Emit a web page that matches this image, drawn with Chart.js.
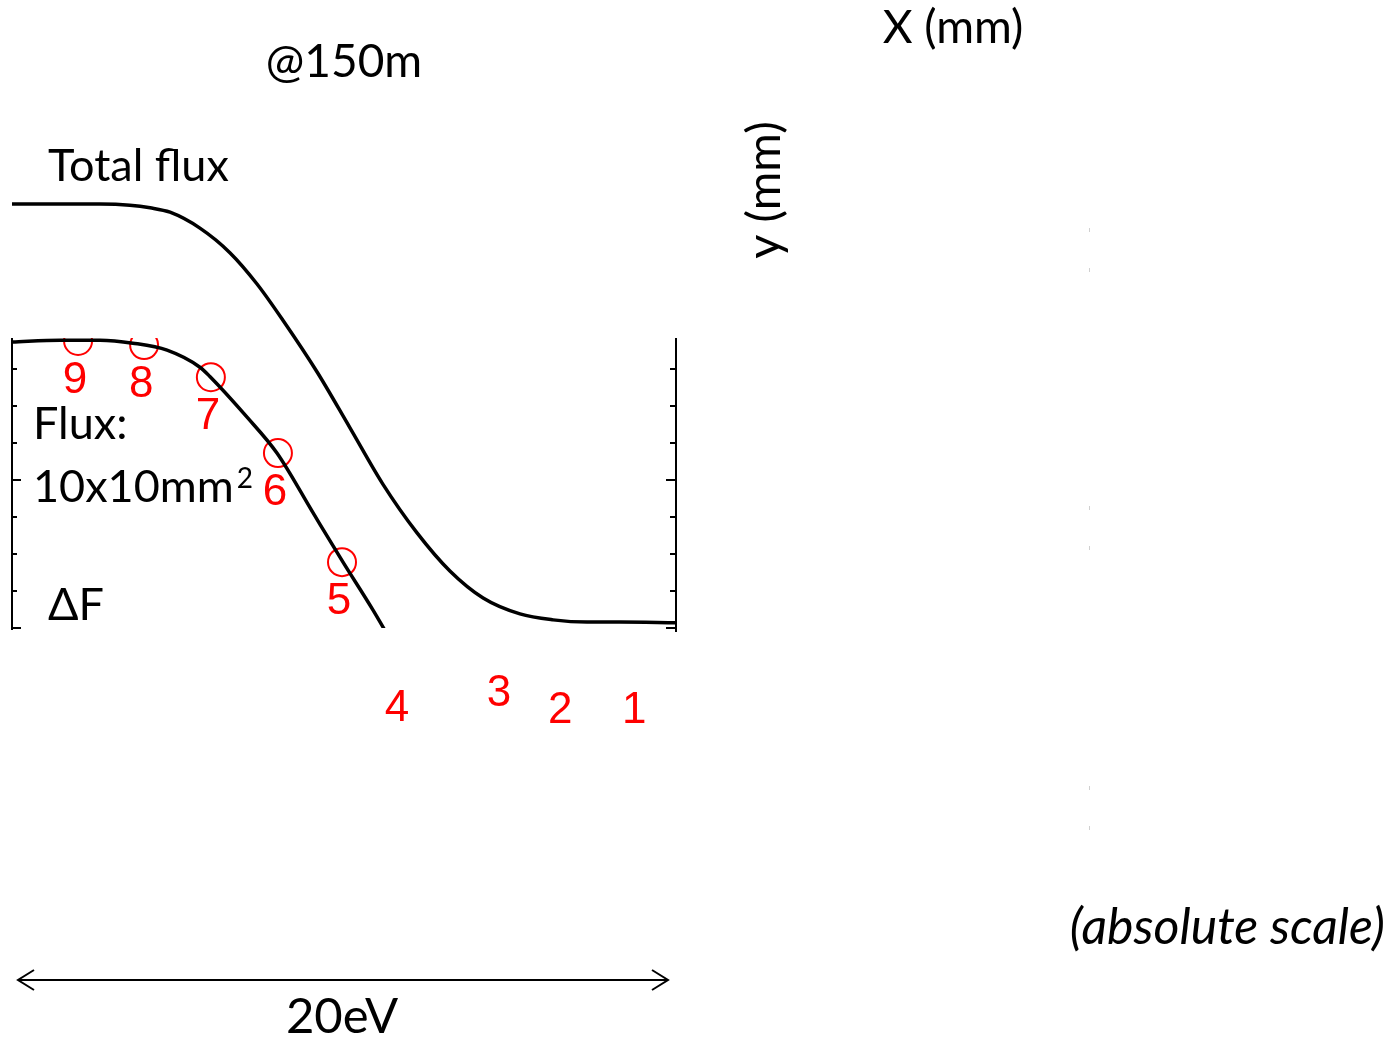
<!DOCTYPE html>
<html>
<head>
<meta charset="utf-8">
<script src="https://cdn.jsdelivr.net/npm/chart.js"></script>
<style>
  html, body { margin: 0; padding: 0; background: #fff; }
  #wrap { width: 1390px; height: 1038px; }
</style>
</head>
<body>
<div id="wrap"><canvas id="chart" width="1390" height="1038"></canvas></div>
<script>
// energy axis (eV), flux axis in tick units
const totalX = [0, 1.45, 2.65, 3.55, 4.16, 4.76, 5.66, 6.57, 7.38, 8.16, 9.19, 10.18, 11.17, 12.2, 13.19, 14.19, 15.3, 16.3, 17.32, 18.31, 20];
const totalY = [11.46, 11.46, 11.46, 11.43, 11.36, 11.24, 10.81, 10.14, 9.30, 8.32, 6.92, 5.41, 3.89, 2.57, 1.54, 0.81, 0.38, 0.22, 0.16, 0.16, 0.14];

const boxX = [0, 1.45, 2.65, 3.64, 4.67, 5.66, 5.96, 7.08, 7.98, 9.07, 9.97, 10.87, 11.54, 12.29];
const boxY = [7.73, 7.78, 7.78, 7.70, 7.51, 7.05, 6.80, 5.70, 4.73, 3.11, 1.78, 0.49, -0.54, -1.68];

const markerLabels = ['9', '8', '7', '6', '5', '4', '3', '2', '1'];
const markerX = [1.99, 3.98, 5.99, 8.01, 9.94, 11.69, 14.76, 16.6, 18.83];
const markerY = [7.76, 7.65, 6.78, 4.73, 1.78, -1.11, -0.70, -1.16, -1.16];

const yTicks = [0, 1, 2, 3, 4, 5, 6, 7];
const majorEvery = 4;

const blackFont = '"Lato", "Open Sans", sans-serif';
const redFont = '"Liberation Sans", Arial, sans-serif';

function pts(xs, ys) {
    return xs.map((x, i) => ({x: x, y: ys[i]}));
}

const frame = {
    id: 'frame',
    afterDatasetsDraw(chart) {
        const ctx = chart.ctx;
        const xs = chart.scales.x;
        const ys = chart.scales.y;
        const left = xs.getPixelForValue(xs.min);
        const right = xs.getPixelForValue(xs.max);
        const top = ys.getPixelForValue(ys.max);
        const bottom = ys.getPixelForValue(ys.min);
        ctx.save();
        ctx.strokeStyle = '#000';
        ctx.lineWidth = 2;
        ctx.beginPath();
        ctx.moveTo(left, top); ctx.lineTo(left, bottom + 2);
        ctx.moveTo(right, top); ctx.lineTo(right, bottom + 4);
        yTicks.forEach((v, i) => {
            const py = ys.getPixelForValue(v);
            const major = i % majorEvery === 0;
            ctx.moveTo(left, py); ctx.lineTo(left + (major ? 9 : 5), py);
            ctx.moveTo(right, py); ctx.lineTo(right - (major ? 10 : 6), py);
        });
        ctx.stroke();

        // marker numbers
        const meta = chart.getDatasetMeta(2);
        ctx.fillStyle = '#ff0000';
        ctx.font = '44px ' + redFont;
        ctx.textAlign = 'center';
        ctx.textBaseline = 'middle';
        meta.data.forEach((el, i) => {
            ctx.fillText(markerLabels[i], el.x - 3, el.y + 40);
        });

        // energy span arrow
        const ax0 = left + 6, ax1 = right - 8, ay = 980;
        ctx.strokeStyle = '#000';
        ctx.lineWidth = 2;
        ctx.beginPath();
        ctx.moveTo(ax0, ay); ctx.lineTo(ax1, ay);
        ctx.moveTo(ax0 + 16, ay - 10); ctx.lineTo(ax0, ay); ctx.lineTo(ax0 + 16, ay + 10);
        ctx.moveTo(ax1 - 16, ay - 10); ctx.lineTo(ax1, ay); ctx.lineTo(ax1 - 16, ay + 10);
        ctx.stroke();

        // text
        ctx.fillStyle = '#000';
        ctx.textBaseline = 'middle';
        ctx.textAlign = 'center';
        ctx.font = '46px ' + blackFont;
        ctx.fillText('@150m', 344, 62);
        ctx.fillText('X (mm)', 953, 28);
        ctx.font = '49px ' + blackFont;
        ctx.fillText('20eV', 342, 1017);
        ctx.font = '45px ' + blackFont;
        ctx.textAlign = 'left';
        ctx.fillText('Total flux', 48, 166);
        ctx.fillText('Flux:', 33, 424);
        ctx.fillText('10x10mm', 33, 487);
        const w = ctx.measureText('10x10mm').width;
        ctx.font = '28px ' + blackFont;
        ctx.fillText('2', 33 + w + 3, 479);
        ctx.font = '45px ' + blackFont;
        ctx.fillText('\u0394F', 48, 605);
        ctx.font = 'italic 50px ' + blackFont;
        ctx.textAlign = 'right';
        ctx.fillText('(absolute scale)', 1385, 928);

        ctx.save();
        ctx.translate(765, 190);
        ctx.rotate(-Math.PI / 2);
        ctx.textAlign = 'center';
        ctx.font = '47px ' + blackFont;
        ctx.fillText('y (mm)', 0, 0);
        ctx.restore();

        // faint marks on the right
        ctx.fillStyle = '#d0d0d0';
        [230, 270, 508, 548, 788, 828].forEach((py) => {
            ctx.fillRect(1089, py - 2, 1, 4);
        });
        ctx.restore();
    }
};

const config = {
    type: 'line',
    data: {
        datasets: [
            {
                label: 'Total flux',
                data: pts(totalX, totalY),
                borderColor: '#000',
                borderWidth: 3.5,
                pointRadius: 0,
                cubicInterpolationMode: 'monotone',
                fill: false,
                clip: false,
            },
            {
                label: 'Flux 10x10mm2',
                data: pts(boxX, boxY),
                borderColor: '#000',
                borderWidth: 3.5,
                pointRadius: 0,
                cubicInterpolationMode: 'monotone',
                fill: false,
            },
            {
                label: 'positions',
                data: pts(markerX, markerY),
                showLine: false,
                pointStyle: 'circle',
                pointRadius: 14,
                pointBorderWidth: 2,
                pointBorderColor: '#ff0000',
                pointBackgroundColor: 'rgba(0,0,0,0)',
                clip: 0,
            },
        ]
    },
    options: {
        responsive: false,
        animation: false,
        layout: {
            autoPadding: false,
            padding: {left: 12, top: 338, right: 714, bottom: 410}
        },
        scales: {
            x: {type: 'linear', min: 0, max: 20, display: false},
            y: {type: 'linear', min: 0, max: 7.84, display: false}
        },
        plugins: {
            legend: {display: false},
            tooltip: {enabled: false},
        }
    },
    plugins: [frame]
};

new Chart(document.getElementById('chart'), config);
</script>
</body>
</html>
